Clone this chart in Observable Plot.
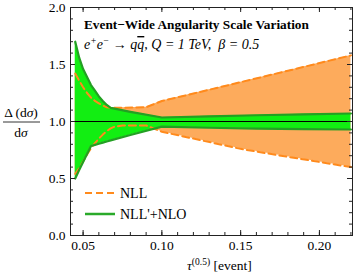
<!DOCTYPE html>
<html><head><meta charset="utf-8">
<script src="https://cdn.jsdelivr.net/npm/d3@7"></script>
<script src="https://cdn.jsdelivr.net/npm/@observablehq/plot@0.6"></script>
<style>body{margin:0;background:#fff} svg{display:block}</style>
</head><body><div id="chart"></div>
<script>
// NLL'+NLO band (green)
const tauGreen = [0.045, 0.0475, 0.05, 0.0525, 0.055, 0.0575, 0.06, 0.0625, 0.065, 0.0675, 0.08, 0.10, 0.13, 0.16, 0.19, 0.22];
const nloUpper = [1.70, 1.56, 1.46, 1.39, 1.32, 1.27, 1.22, 1.18, 1.145, 1.12, 1.085, 1.035, 1.045, 1.055, 1.063, 1.07];
const nloLower = [0.50, 0.575, 0.645, 0.715, 0.785, 0.795, 0.805, 0.815, 0.825, 0.834, 0.882, 0.955, 0.945, 0.938, 0.933, 0.93];
// NLL band (orange)
const tauOrange = [0.045, 0.0475, 0.05, 0.0525, 0.055, 0.0575, 0.06, 0.0625, 0.065, 0.0675, 0.07, 0.075, 0.09, 0.10, 0.12, 0.15, 0.18, 0.22];
const nllUpper = [1.42, 1.36, 1.30, 1.25, 1.21, 1.18, 1.16, 1.14, 1.125, 1.12, 1.12, 1.12, 1.125, 1.18, 1.245, 1.345, 1.445, 1.58];
const nllLower = [0.54, 0.59, 0.65, 0.71, 0.765, 0.81, 0.85, 0.885, 0.915, 0.94, 0.955, 0.965, 0.965, 0.91, 0.85, 0.76, 0.69, 0.60];

const referenceLine = [1.0];
const xMajorTicks = [0.05, 0.10, 0.15, 0.20];
const xMinorTicks = [0.05, 0.06, 0.07, 0.08, 0.09, 0.10, 0.11, 0.12, 0.13, 0.14, 0.15, 0.16, 0.17, 0.18, 0.19, 0.20, 0.21, 0.22];
const yMajorTicks = [0.0, 0.5, 1.0, 1.5, 2.0];
const yMinorTicks = [0.0, 0.1, 0.2, 0.3, 0.4, 0.5, 0.6, 0.7, 0.8, 0.9, 1.0, 1.1, 1.2, 1.3, 1.4, 1.5, 1.6, 1.7, 1.8, 1.9, 2.0];
const legendLabels = ["NLL", "NLL'+NLO"];
const titleText = "Event\u2212Wide Angularity Scale Variation";

const W = 356, H = 276, ML = 70, MR = 4, MT = 7, MB = 41;
const innerW = W - ML - MR, innerH = H - MT - MB;
const serif = "'Liberation Serif', 'Times New Roman', serif";

const green = tauGreen.map((t, i) => ({tau: t, lo: nloLower[i], hi: nloUpper[i]}));
const orange = tauOrange.map((t, i) => ({tau: t, lo: nllLower[i], hi: nllUpper[i]}));

const cOrangeFill = "#fdab5c", cOrangeLine = "#ff8a1c", cGreenFill = "#12ee12", cGreenLine = "#23a023";

const svg = Plot.plot({
  width: W, height: H,
  marginLeft: ML, marginRight: MR, marginTop: MT, marginBottom: MB,
  style: {fontFamily: serif, fontSize: "13.5px", color: "#000", background: "#fff"},
  x: {domain: [0.042, 0.221], axis: null},
  y: {domain: [0, 2], axis: null},
  marks: [
    Plot.areaY(orange, {x: "tau", y1: "lo", y2: "hi", fill: cOrangeFill}),
    Plot.areaY(green, {x: "tau", y1: "lo", y2: "hi", fill: cGreenFill}),
    Plot.line(orange, {x: "tau", y: "hi", stroke: cOrangeLine, strokeWidth: 2, strokeDasharray: "7,4"}),
    Plot.line(orange, {x: "tau", y: "lo", stroke: cOrangeLine, strokeWidth: 2, strokeDasharray: "7,4"}),
    Plot.line(green, {x: "tau", y: "hi", stroke: cGreenLine, strokeWidth: 2.2}),
    Plot.line(green, {x: "tau", y: "lo", stroke: cGreenLine, strokeWidth: 2.2}),
    Plot.ruleY(referenceLine, {stroke: "#000", strokeWidth: 1}),
    // inward ticks, left/right
    Plot.tickY(yMajorTicks, {y: d => d, stroke: "#222", insetRight: innerW - 5}),
    Plot.tickY(yMinorTicks, {y: d => d, stroke: "#222", insetRight: innerW - 3}),
    Plot.tickY(yMajorTicks, {y: d => d, stroke: "#222", insetLeft: innerW - 5}),
    Plot.tickY(yMinorTicks, {y: d => d, stroke: "#222", insetLeft: innerW - 3}),
    // inward ticks, bottom/top
    Plot.tickX(xMajorTicks, {x: d => d, stroke: "#222", insetTop: innerH - 5}),
    Plot.tickX(xMinorTicks, {x: d => d, stroke: "#222", insetTop: innerH - 3}),
    Plot.tickX(xMajorTicks, {x: d => d, stroke: "#222", insetBottom: innerH - 5}),
    Plot.tickX(xMinorTicks, {x: d => d, stroke: "#222", insetBottom: innerH - 3}),
    Plot.frame({stroke: "#222"}),
    Plot.axisX({ticks: xMajorTicks, tickSize: 0, tickPadding: 5, tickFormat: d3.format(".2f"), label: null}),
    Plot.axisY({ticks: yMajorTicks, tickSize: 0, tickPadding: 5, tickFormat: d3.format(".1f"), label: null})
  ]
});

const s = d3.select(svg);
// Title and subtitle inside the frame
s.append("text").attr("x", 84).attr("y", 29).attr("text-anchor", "start").attr("font-family", serif).attr("font-weight", "bold")
  .attr("font-size", 13.3).attr("fill", "#000").text(titleText);
const sub = s.append("text").attr("x", 84).attr("y", 49).attr("text-anchor", "start").attr("font-family", serif).attr("font-style", "italic")
  .attr("font-size", 14).attr("fill", "#000");
sub.append("tspan").text("e");
sub.append("tspan").attr("baseline-shift", "super").attr("font-size", 9.5).text("+");
sub.append("tspan").text("e");
sub.append("tspan").attr("baseline-shift", "super").attr("font-size", 9.5).text("\u2212");
sub.append("tspan").text(" \u2192 q");
sub.append("tspan").attr("text-decoration", "overline").text("q");
sub.append("tspan").text(", Q = 1 TeV,  \u03B2 = 0.5");

// Legend
const leg = s.append("g").attr("font-family", serif).attr("font-size", 14).attr("fill", "#000").attr("text-anchor", "start");
leg.append("line").attr("x1", 85).attr("x2", 115).attr("y1", 193).attr("y2", 193)
  .attr("stroke", cOrangeLine).attr("stroke-width", 2).attr("stroke-dasharray", "7,4");
leg.append("text").attr("x", 120).attr("y", 193).attr("dy", "0.35em").text(legendLabels[0]);
leg.append("line").attr("x1", 85).attr("x2", 115).attr("y1", 214).attr("y2", 214)
  .attr("stroke", "#2aaa2a").attr("stroke-width", 2.5);
leg.append("text").attr("x", 120).attr("y", 214).attr("dy", "0.35em").text(legendLabels[1]);

// Y label (fraction)
const yl = s.append("g").attr("font-family", serif).attr("font-size", 13.5).attr("fill", "#000").attr("text-anchor", "middle");
const num = yl.append("text").attr("x", 21).attr("y", 117);
num.append("tspan").text("\u0394 (d");
num.append("tspan").attr("font-style", "italic").text("\u03C3");
num.append("tspan").text(")");
yl.append("line").attr("x1", 3).attr("x2", 40).attr("y1", 122).attr("y2", 122).attr("stroke", "#000").attr("stroke-width", 0.8);
const den = yl.append("text").attr("x", 21).attr("y", 137);
den.append("tspan").text("d");
den.append("tspan").attr("font-style", "italic").text("\u03C3");

// X label
const xl = s.append("text").attr("x", 187).attr("y", 270).attr("text-anchor", "start").attr("font-family", serif).attr("font-size", 13.5).attr("fill", "#000");
xl.append("tspan").attr("font-style", "italic").text("\u03C4");
xl.append("tspan").attr("baseline-shift", "super").attr("font-size", 9.5).text("(0.5)");
xl.append("tspan").text(" [event]");

document.getElementById("chart").appendChild(svg);
</script>
</body></html>
